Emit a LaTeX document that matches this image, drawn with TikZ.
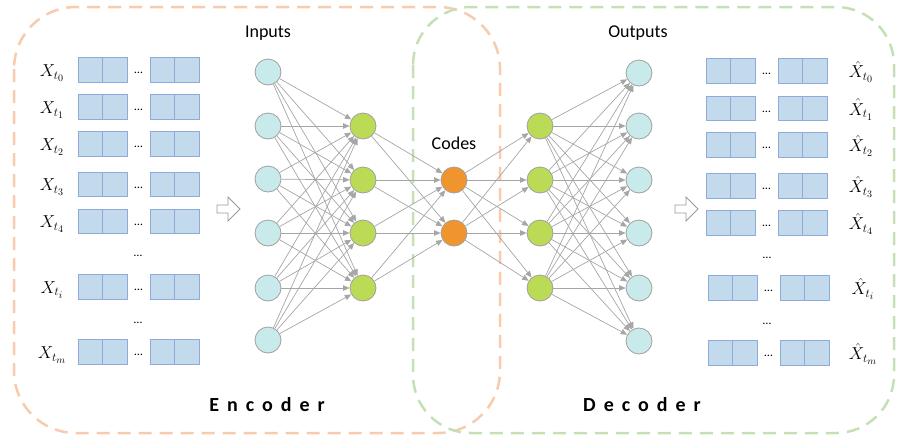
\documentclass[tikz,border=0pt]{standalone}
\usepackage{fontspec}
\setmainfont{Carlito}
\usetikzlibrary{arrows.meta}
\renewcommand\defaultscriptratio{.72}
\renewcommand\defaultscriptscriptratio{.58}
\definecolor{incol}{HTML}{C8EAEA}
\definecolor{hidcol}{HTML}{BBDA55}
\definecolor{codecol}{HTML}{F0952E}
\definecolor{nodeborder}{HTML}{A0A0A0}
\definecolor{boxfill}{HTML}{C3D9EC}
\definecolor{boxline}{HTML}{8EABDC}
\definecolor{encline}{HTML}{F8CBAD}
\definecolor{decline}{HTML}{C5E0B4}
\definecolor{conn}{HTML}{A6A6A6}
\newcommand\vecrow[2]{%
  \foreach \dx in {0,24.5,72,96.5} {\draw[cell] (#1+\dx,#2-12.25) rectangle ++(24.5,24.5);}
  \node[dotsty] at (#1+60.5,#2+3) {…};
}
\begin{document}
\begin{tikzpicture}[x=1pt,y=-1pt,
  neuron/.style={circle, draw=nodeborder, line width=0.8pt, minimum size=26pt, inner sep=0pt},
  innode/.style={neuron, fill=incol},
  hidnode/.style={neuron, fill=hidcol},
  codenode/.style={neuron, fill=codecol},
  link/.style={draw=conn, line width=0.7pt, -{Triangle[length=6.5pt,width=5.5pt]}},
  cell/.style={draw=boxline, fill=boxfill, line width=0.8pt},
  dotsty/.style={font=\fontsize{12}{14}\selectfont, inner sep=0pt},
  lab/.style={font=\fontsize{18}{22}\selectfont, inner sep=0pt},
  mlab/.style={font=\fontsize{16.5}{19}\selectfont, inner sep=0pt},
  part/.style={font=\fontsize{20}{24}\selectfont\bfseries\addfontfeatures{LetterSpace=40}, inner sep=0pt},
  hollow/.style={draw=gray!80, line width=0.8pt, fill=white},
  encbox/.style={draw=encline, line width=2.5pt, dash pattern=on 13pt off 8pt, rounded corners=62pt},
  decbox/.style={draw=decline, line width=2.5pt, dash pattern=on 13pt off 8pt, rounded corners=58pt}
]
\useasboundingbox (0,0) rectangle (897,440);

% dashed groups
\draw[encbox] (14,7) rectangle (500,433);
\draw[decbox] (413,7) rectangle (894,433);

% left vectors
\vecrow{78}{70}
\vecrow{78}{107}
\vecrow{78}{144}
\vecrow{78}{184.5}
\vecrow{78}{221.5}
\node[dotsty] at (138,256) {…};
\vecrow{78}{287}
\node[dotsty] at (138,323) {…};
\vecrow{78}{352}

\node[mlab] (x0) at (52,73) {$X_{t_0}$};
\node[mlab] (x1) at (52,110) {$X_{t_1}$};
\node[mlab] (x2) at (52,147) {$X_{t_2}$};
\node[mlab] (x3) at (52,187.5) {$X_{t_3}$};
\node[mlab] (x4) at (52,224.5) {$X_{t_4}$};
\node[mlab] (xi) at (52,290) {$X_{t_i}$};
\node[mlab] (xm) at (52,355) {$X_{t_m}$};

% right vectors
\vecrow{706}{71}
\vecrow{706}{108.5}
\vecrow{706}{145}
\vecrow{706}{186}
\vecrow{706}{223}
\node[dotsty] at (767,258) {…};
\vecrow{708}{288}
\node[dotsty] at (767,324) {…};
\vecrow{708}{353}

\node[mlab] (y0) at (861,72) {$\hat{X}_{t_0}$};
\node[mlab] (y1) at (861,109.5) {$\hat{X}_{t_1}$};
\node[mlab] (y2) at (861,146) {$\hat{X}_{t_2}$};
\node[mlab] (y3) at (861,187) {$\hat{X}_{t_3}$};
\node[mlab] (y4) at (861,224) {$\hat{X}_{t_4}$};
\node[mlab] (yi) at (863,289) {$\hat{X}_{t_i}$};
\node[mlab] (ym) at (863,354) {$\hat{X}_{t_m}$};

% hollow arrows
\draw[hollow] (217,205) -- (228,205) -- (228,197) -- (240,209) -- (228,221) -- (228,213) -- (217,213) -- cycle;
\draw[hollow] (675,205) -- (686,205) -- (686,197) -- (698,209) -- (686,221) -- (686,213) -- (675,213) -- cycle;

% neurons
\foreach \k/\yy in {1/72,2/126,3/179,4/233,5/288,6/340}
  \node[innode] (i\k) at (268,\yy) {};
\foreach \k/\yy in {1/126,2/180,3/233,4/288}
  \node[hidnode] (h\k) at (363,\yy) {};
\foreach \k/\yy in {1/180,2/233}
  \node[codenode] (c\k) at (454,\yy) {};
\foreach \k/\yy in {1/126,2/180,3/233,4/288}
  \node[hidnode] (d\k) at (540,\yy) {};
\foreach \k/\yy in {1/73,2/126,3/180,4/233,5/288,6/341}
  \node[innode] (o\k) at (639,\yy) {};

% connections
\foreach \a in {1,...,6} \foreach \b in {1,...,4} \draw[link] (i\a) -- (h\b);
\foreach \a in {1,...,4} \foreach \b in {1,2} \draw[link] (h\a) -- (c\b);
\foreach \a in {1,2} \foreach \b in {1,...,4} \draw[link] (c\a) -- (d\b);
\foreach \a in {1,...,4} \foreach \b in {1,...,6} \draw[link] (d\a) -- (o\b);

% labels
\node[lab] (tin) at (268,33) {Inputs};
\node[lab] (tcode) at (454,143) {Codes};
\node[lab] (tout) at (638,33) {Outputs};
\node[part] (tenc) at (267,405) {Encoder};
\node[part] (tdec) at (642,405) {Decoder};
\end{tikzpicture}
\end{document}
